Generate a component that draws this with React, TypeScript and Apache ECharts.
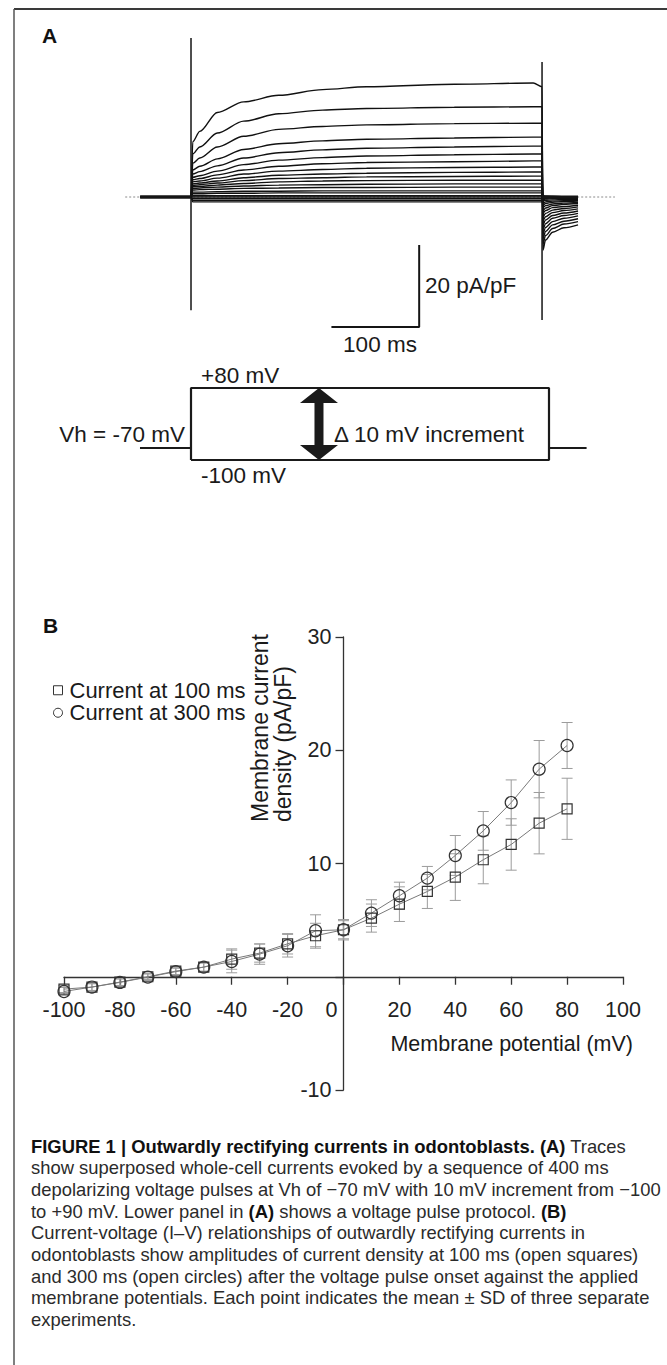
import React, { useEffect, useRef } from "react";
import * as echarts from "echarts";

const FONT = "'Liberation Sans', Arial, Helvetica, sans-serif";

// ---------- Panel A: superposed whole-cell current traces ----------
const TRACE_STEP_MV = [90, 80, 70, 60, 50, 40, 30, 20, 10, 0, -10, -20, -30, -40, -50, -60, -70, -80, -90, -100];
const PULSE_TIMES_MS = [2, 10, 30, 60, 100, 150, 200, 300, 390, 400];
const TRACE_PULSE_PA_PF = [
  [13.5, 16.0, 20.6, 23.2, 24.8, 26.2, 26.9, 27.5, 27.8, 26.9],
  [10.5, 12.2, 15.6, 18.5, 20.3, 21.2, 21.6, 21.9, 22.0, 22.0],
  [8.2, 9.5, 12.2, 14.8, 16.5, 17.2, 17.6, 17.9, 18.0, 18.0],
  [6.6, 7.5, 9.3, 11.6, 13.0, 13.7, 14.1, 14.4, 14.6, 14.6],
  [5.6, 6.2, 7.6, 9.5, 10.8, 11.5, 11.9, 12.2, 12.4, 12.4],
  [4.8, 5.2, 6.3, 7.9, 9.0, 9.6, 10.0, 10.3, 10.5, 10.5],
  [4.2, 4.5, 5.4, 6.6, 7.5, 8.1, 8.4, 8.6, 8.8, 8.8],
  [3.7, 3.9, 4.6, 5.6, 6.3, 6.7, 7.0, 7.2, 7.3, 7.3],
  [3.2, 3.4, 3.9, 4.7, 5.3, 5.6, 5.8, 6.0, 6.1, 6.1],
  [2.8, 3.0, 3.4, 4.0, 4.5, 4.7, 4.9, 5.0, 5.1, 5.1],
  [2.5, 2.6, 2.9, 3.3, 3.7, 3.9, 4.0, 4.1, 4.1, 4.1],
  [2.1, 2.2, 2.4, 2.7, 2.9, 3.0, 3.1, 3.2, 3.2, 3.2],
  [1.7, 1.8, 1.9, 2.1, 2.2, 2.3, 2.3, 2.4, 2.4, 2.4],
  [1.2, 1.2, 1.3, 1.4, 1.4, 1.5, 1.5, 1.5, 1.5, 1.5],
  [0.8, 0.8, 0.9, 0.9, 1.0, 1.0, 1.0, 1.0, 1.0, 1.0],
  [0.3, 0.3, 0.3, 0.3, 0.3, 0.3, 0.3, 0.3, 0.3, 0.3],
  [0.0, 0.0, 0.0, 0.0, 0.0, 0.0, 0.0, 0.0, 0.0, 0.0],
  [-0.4, -0.4, -0.4, -0.4, -0.4, -0.4, -0.4, -0.4, -0.4, -0.4],
  [-0.8, -0.8, -0.8, -0.8, -0.8, -0.8, -0.8, -0.8, -0.8, -0.8],
  [-1.2, -1.2, -1.2, -1.2, -1.2, -1.2, -1.2, -1.2, -1.2, -1.2],
];
const TAIL_TIMES_MS = [401, 404, 412, 425, 441];
const TRACE_TAIL_PA_PF = [
  [-13.0, -10.5, -8.6, -7.5, -6.8],
  [-11.5, -9.4, -7.7, -6.6, -6.0],
  [-10.2, -8.4, -6.8, -5.9, -5.3],
  [-9.0, -7.4, -6.0, -5.2, -4.6],
  [-7.9, -6.5, -5.2, -4.5, -4.0],
  [-6.8, -5.6, -4.5, -3.9, -3.4],
  [-5.8, -4.8, -3.8, -3.3, -2.9],
  [-4.9, -4.0, -3.2, -2.8, -2.4],
  [-4.0, -3.3, -2.6, -2.3, -2.0],
  [-3.3, -2.7, -2.1, -1.8, -1.6],
  [-2.6, -2.1, -1.7, -1.5, -1.3],
  [-2.0, -1.6, -1.3, -1.1, -1.0],
  [-1.5, -1.2, -1.0, -0.9, -0.8],
  [-1.0, -0.8, -0.7, -0.6, -0.6],
  [-0.6, -0.5, -0.4, -0.4, -0.4],
  [-0.3, -0.3, -0.2, -0.2, -0.2],
  [0.0, 0.0, 0.0, 0.0, 0.0],
  [0.1, 0.1, 0.1, 0.1, 0.1],
  [0.2, 0.2, 0.1, 0.1, 0.1],
  [0.3, 0.2, 0.2, 0.1, 0.1],
];
const HOLDING_PA_PF = 0;
const RECORD_START_MS = -58;
const PULSE_END_MS = 400;
const ONSET_TRANSIENT_PA_PF = [38.8, -27.6];
const OFFSET_TRANSIENT_PA_PF = [32.9, -30.0];
const BASELINE_RANGE_MS = [-75, 483];
const SCALE_BAR_MS = 100;
const SCALE_BAR_PA_PF = 20;
const SCALE_BAR_CORNER = [260, -31.7];

// ---------- Panel A: voltage protocol ----------
const HOLDING_MV = -70;
const STEP_MAX_MV = 80;
const STEP_MIN_MV = -100;
const PROTOCOL_RANGE_MS = [-57, 442];
const PROTOCOL_PULSE_MS = 400;
const ARROW_AT_MS = 143;

// ---------- Panel B: I-V relationship ----------
const IV_MV = [-100, -90, -80, -70, -60, -50, -40, -30, -20, -10, 0, 10, 20, 30, 40, 50, 60, 70, 80];
const I_100MS = [-1.09, -0.91, -0.47, 0.0, 0.5, 0.85, 1.56, 2.09, 2.91, 3.62, 4.15, 5.18, 6.41, 7.53, 8.8, 10.33, 11.68, 13.56, 14.83];
const SD_100MS = [0.3, 0.3, 0.3, 0.25, 0.3, 0.35, 0.9, 0.8, 0.9, 1.1, 0.9, 1.24, 1.53, 1.5, 2.06, 2.12, 2.27, 2.71, 2.7];
const I_300MS = [-1.3, -0.91, -0.5, -0.03, 0.45, 0.85, 1.35, 2.0, 2.74, 4.06, 4.15, 5.62, 7.15, 8.71, 10.71, 12.88, 15.38, 18.33, 20.42];
const SD_300MS = [0.35, 0.3, 0.3, 0.3, 0.3, 0.4, 1.0, 0.9, 1.0, 1.41, 0.8, 1.18, 1.2, 1.03, 1.76, 1.71, 2.0, 2.53, 2.03];
const IV_X_RANGE = [-100, 100];
const IV_Y_RANGE = [-10, 30];

const CAPTION_LINES = [
  "{b|FIGURE 1 | Outwardly rectifying currents in odontoblasts. (A)} Traces",
  "show superposed whole-cell currents evoked by a sequence of 400 ms",
  "depolarizing voltage pulses at Vh of \u221270 mV with 10 mV increment from \u2212100",
  "to +90 mV. Lower panel in {b|(A)} shows a voltage pulse protocol. {b|(B)}",
  "Current-voltage (I\u2013V) relationships of outwardly rectifying currents in",
  "odontoblasts show amplitudes of current density at 100 ms (open squares)",
  "and 300 ms (open circles) after the voltage pulse onset against the applied",
  "membrane potentials. Each point indicates the mean \u00b1 SD of three separate",
  "experiments.",
];

const IV_GRID = { left: 64, top: 637, width: 559, height: 453 };

function txt(x: number, y: number, text: string, size: number, align: string, opts: any = {}) {
  return {
    type: "text",
    x,
    y,
    silent: true,
    rotation: opts.rotation || 0,
    style: {
      text,
      fontSize: size,
      fontFamily: FONT,
      fontWeight: opts.bold ? "bold" : "normal",
      fill: opts.fill || "#1a1a1a",
      align,
      textAlign: align,
      verticalAlign: opts.va || "middle",
      textVerticalAlign: opts.va || "middle",
      lineHeight: opts.lineHeight,
      rich: opts.rich,
    },
  };
}

function buildOption() {
  const traceSeries: any[] = TRACE_STEP_MV.map((mv, i) => ({
    type: "line",
    name: `${mv} mV`,
    xAxisIndex: 0,
    yAxisIndex: 0,
    symbol: "none",
    silent: true,
    smooth: 0.3,
    smoothMonotone: "x",
    lineStyle: { color: "#111", width: 1.4 },
    z: 3,
    data: [
      [RECORD_START_MS, HOLDING_PA_PF],
      [0, HOLDING_PA_PF],
      ...PULSE_TIMES_MS.map((t, j) => [t, TRACE_PULSE_PA_PF[i][j]]),
      ...TAIL_TIMES_MS.map((t, j) => [t, TRACE_TAIL_PA_PF[i][j]]),
    ],
  }));

  const simpleLine = (data: any[], width: number, extra: any = {}) => ({
    type: "line",
    xAxisIndex: 0,
    yAxisIndex: 0,
    symbol: "none",
    silent: true,
    lineStyle: { color: "#151515", width, ...(extra.lineStyle || {}) },
    z: extra.z || 4,
    data,
  });

  const errorRender = (params: any, api: any) => {
    const x = api.value(0);
    const a = api.coord([x, api.value(1)]);
    const b = api.coord([x, api.value(2)]);
    const w = 5.5;
    const st = { stroke: "#9c9c9c", lineWidth: 1 };
    return {
      type: "group",
      children: [
        { type: "line", shape: { x1: a[0], y1: a[1], x2: b[0], y2: b[1] }, style: st },
        { type: "line", shape: { x1: a[0] - w, y1: a[1], x2: a[0] + w, y2: a[1] }, style: st },
        { type: "line", shape: { x1: b[0] - w, y1: b[1], x2: b[0] + w, y2: b[1] }, style: st },
      ],
    };
  };

  const arrowRender = (params: any, api: any) => {
    const t = api.value(0);
    const bot = api.coord([t, api.value(1)]);
    const top = api.coord([t, api.value(2)]);
    const cx = top[0];
    const hw = 19;
    const sw = 4.5;
    const hh = 15;
    return {
      type: "polygon",
      shape: {
        points: [
          [cx, top[1]],
          [cx + hw, top[1] + hh],
          [cx + sw, top[1] + hh],
          [cx + sw, bot[1] - hh],
          [cx + hw, bot[1] - hh],
          [cx, bot[1]],
          [cx - hw, bot[1] - hh],
          [cx - sw, bot[1] - hh],
          [cx - sw, top[1] + hh],
          [cx - hw, top[1] + hh],
        ],
      },
      style: { fill: "#1a1a1a" },
    };
  };

  const axisTextStyle = { color: "#222", fontSize: 21.5, fontFamily: FONT };

  // place the axes through the origin (x axis at 0 pA/pF, y axis at 0 mV)
  const xAxisOffset = -((0 - IV_Y_RANGE[0]) / (IV_Y_RANGE[1] - IV_Y_RANGE[0])) * IV_GRID.height;
  const yAxisOffset = -((0 - IV_X_RANGE[0]) / (IV_X_RANGE[1] - IV_X_RANGE[0])) * IV_GRID.width;

  const graphics: any[] = [
    // figure frame
    { type: "line", silent: true, shape: { x1: 14, y1: 9, x2: 667, y2: 9 }, style: { stroke: "#3a3a3a", lineWidth: 2 } },
    { type: "line", silent: true, shape: { x1: 14, y1: 9, x2: 14, y2: 1365 }, style: { stroke: "#555", lineWidth: 1.5 } },
    txt(42, 35.5, "A", 21, "left", { bold: true, fill: "#111" }),
    txt(425, 285.5, "20 pA/pF", 22.5, "left"),
    txt(380, 344.5, "100 ms", 22.5, "center"),
    txt(201, 375, "+80 mV", 22.5, "left"),
    txt(201, 475.5, "-100 mV", 22.5, "left"),
    txt(185, 434.5, "Vh = -70 mV", 22.5, "right"),
    txt(334, 434.5, "\u0394 10 mV increment", 22.5, "left"),
    txt(43, 625.5, "B", 21, "left", { bold: true, fill: "#111" }),
    txt(248.5, 822, "Membrane current\ndensity (pA/pF)", 23, "left", { rotation: Math.PI / 2, va: "top", lineHeight: 23 }),
    txt(633, 1044, "Membrane potential (mV)", 21.5, "right"),
  ];
  CAPTION_LINES.forEach((line, k) => {
    graphics.push(
      txt(31, 1146 + k * 21.7, line, 18.4, "left", {
        fill: "#2b2b2b",
        rich: { b: { fontWeight: "bold", fontSize: 18.4, fontFamily: FONT, fill: "#111" } },
      })
    );
  });

  return {
    animation: false,
    backgroundColor: "#ffffff",
    grid: [
      { left: 120.8, top: 33, width: 509, height: 295.2 },
      { left: 119.4, top: 380, width: 519.1, height: 88 },
      IV_GRID,
    ],
    xAxis: [
      { gridIndex: 0, type: "value", min: -80, max: 500, show: false },
      { gridIndex: 1, type: "value", min: -80, max: 500, show: false },
      {
        gridIndex: 2,
        type: "value",
        position: "bottom",
        offset: xAxisOffset,
        min: IV_X_RANGE[0],
        max: IV_X_RANGE[1],
        interval: 20,
        splitLine: { show: false },
        axisLine: { onZero: false, lineStyle: { color: "#333", width: 1.3 } },
        axisTick: { length: 8, lineStyle: { color: "#333", width: 1.3 } },
        axisLabel: {
          ...axisTextStyle,
          margin: 22,
          formatter: (v: number) => (v === 0 ? "{z|0}" : String(v)),
          rich: { z: { ...axisTextStyle, padding: [0, 24, 0, 0] } },
        },
      },
    ],
    yAxis: [
      { gridIndex: 0, type: "value", min: -32, max: 40, show: false },
      { gridIndex: 1, type: "value", min: -120, max: 100, show: false },
      {
        gridIndex: 2,
        type: "value",
        position: "left",
        offset: yAxisOffset,
        min: IV_Y_RANGE[0],
        max: IV_Y_RANGE[1],
        interval: 10,
        splitLine: { show: false },
        axisLine: { onZero: false, lineStyle: { color: "#333", width: 1.3 } },
        axisTick: { length: 8, lineStyle: { color: "#333", width: 1.3 } },
        axisLabel: {
          ...axisTextStyle,
          margin: 12,
          formatter: (v: number) => (v === 0 ? "" : String(v)),
        },
      },
    ],
    legend: {
      show: true,
      orient: "vertical",
      left: 48,
      top: 674,
      itemWidth: 9,
      itemHeight: 9,
      itemGap: 0,
      selectedMode: false,
      itemStyle: { color: "transparent", borderColor: "#333", borderWidth: 1 },
      textStyle: { fontSize: 22, fontFamily: FONT, color: "#1a1a1a", lineHeight: 22.5, padding: [0, 0, 0, 2] },
      data: [
        { name: "Current at 100 ms", icon: "rect" },
        { name: "Current at 300 ms", icon: "circle" },
      ],
    },
    graphic: { elements: graphics },
    series: [
      simpleLine(
        [
          [BASELINE_RANGE_MS[0], HOLDING_PA_PF],
          [BASELINE_RANGE_MS[1], HOLDING_PA_PF],
        ],
        1,
        { lineStyle: { color: "#8a8a8a", type: [2, 2] }, z: 1 }
      ),
      ...traceSeries,
      simpleLine(
        [
          [RECORD_START_MS, HOLDING_PA_PF],
          [0, HOLDING_PA_PF],
        ],
        3.5
      ),
      simpleLine(
        [
          [PULSE_END_MS, HOLDING_PA_PF],
          [TAIL_TIMES_MS[TAIL_TIMES_MS.length - 1], HOLDING_PA_PF],
        ],
        3
      ),
      simpleLine(
        [
          [0, ONSET_TRANSIENT_PA_PF[0]],
          [0, ONSET_TRANSIENT_PA_PF[1]],
        ],
        1.5
      ),
      simpleLine(
        [
          [PULSE_END_MS, OFFSET_TRANSIENT_PA_PF[0]],
          [PULSE_END_MS, OFFSET_TRANSIENT_PA_PF[1]],
        ],
        1.5
      ),
      simpleLine(
        [
          [SCALE_BAR_CORNER[0], SCALE_BAR_CORNER[1] + SCALE_BAR_PA_PF],
          [SCALE_BAR_CORNER[0], SCALE_BAR_CORNER[1]],
          [SCALE_BAR_CORNER[0] - SCALE_BAR_MS, SCALE_BAR_CORNER[1]],
        ],
        2
      ),
      {
        type: "line",
        xAxisIndex: 1,
        yAxisIndex: 1,
        symbol: "none",
        silent: true,
        lineStyle: { color: "#1a1a1a", width: 2.2 },
        data: [
          [0, STEP_MIN_MV],
          [0, STEP_MAX_MV],
          [PROTOCOL_PULSE_MS, STEP_MAX_MV],
          [PROTOCOL_PULSE_MS, STEP_MIN_MV],
          [0, STEP_MIN_MV],
        ],
      },
      {
        type: "line",
        xAxisIndex: 1,
        yAxisIndex: 1,
        symbol: "none",
        silent: true,
        lineStyle: { color: "#1a1a1a", width: 2.2 },
        data: [
          [PROTOCOL_RANGE_MS[0], HOLDING_MV],
          [0, HOLDING_MV],
        ],
      },
      {
        type: "line",
        xAxisIndex: 1,
        yAxisIndex: 1,
        symbol: "none",
        silent: true,
        lineStyle: { color: "#1a1a1a", width: 2.2 },
        data: [
          [PROTOCOL_PULSE_MS, HOLDING_MV],
          [PROTOCOL_RANGE_MS[1], HOLDING_MV],
        ],
      },
      {
        type: "custom",
        xAxisIndex: 1,
        yAxisIndex: 1,
        silent: true,
        renderItem: arrowRender,
        data: [[ARROW_AT_MS, STEP_MIN_MV, STEP_MAX_MV]],
        z: 5,
      },
      {
        type: "custom",
        name: "SD 100 ms",
        xAxisIndex: 2,
        yAxisIndex: 2,
        silent: true,
        renderItem: errorRender,
        encode: { x: 0, y: [1, 2] },
        data: IV_MV.map((v, i) => [v, I_100MS[i] - SD_100MS[i], I_100MS[i] + SD_100MS[i]]),
        z: 1,
      },
      {
        type: "custom",
        name: "SD 300 ms",
        xAxisIndex: 2,
        yAxisIndex: 2,
        silent: true,
        renderItem: errorRender,
        encode: { x: 0, y: [1, 2] },
        data: IV_MV.map((v, i) => [v, I_300MS[i] - SD_300MS[i], I_300MS[i] + SD_300MS[i]]),
        z: 1,
      },
      {
        type: "line",
        name: "Current at 100 ms",
        xAxisIndex: 2,
        yAxisIndex: 2,
        symbol: "rect",
        symbolSize: 10,
        silent: true,
        lineStyle: { color: "#7a7a7a", width: 1 },
        itemStyle: { color: "transparent", borderColor: "#333", borderWidth: 1.2 },
        z: 3,
        data: IV_MV.map((v, i) => [v, I_100MS[i]]),
      },
      {
        type: "line",
        name: "Current at 300 ms",
        xAxisIndex: 2,
        yAxisIndex: 2,
        symbol: "circle",
        symbolSize: 12,
        silent: true,
        lineStyle: { color: "#7a7a7a", width: 1 },
        itemStyle: { color: "transparent", borderColor: "#333", borderWidth: 1.2 },
        z: 3,
        data: IV_MV.map((v, i) => [v, I_300MS[i]]),
      },
    ],
  };
}

export default function App() {
  const ref = useRef<HTMLDivElement>(null);
  useEffect(() => {
    document.body.style.margin = "0";
    const chart = echarts.init(ref.current as HTMLDivElement, null, { renderer: "svg" });
    chart.setOption(buildOption() as any);
    return () => chart.dispose();
  }, []);
  return (
    <div
      ref={ref}
      style={{ position: "absolute", left: 0, top: 0, width: 667, height: 1365, background: "#fff" }}
    />
  );
}
